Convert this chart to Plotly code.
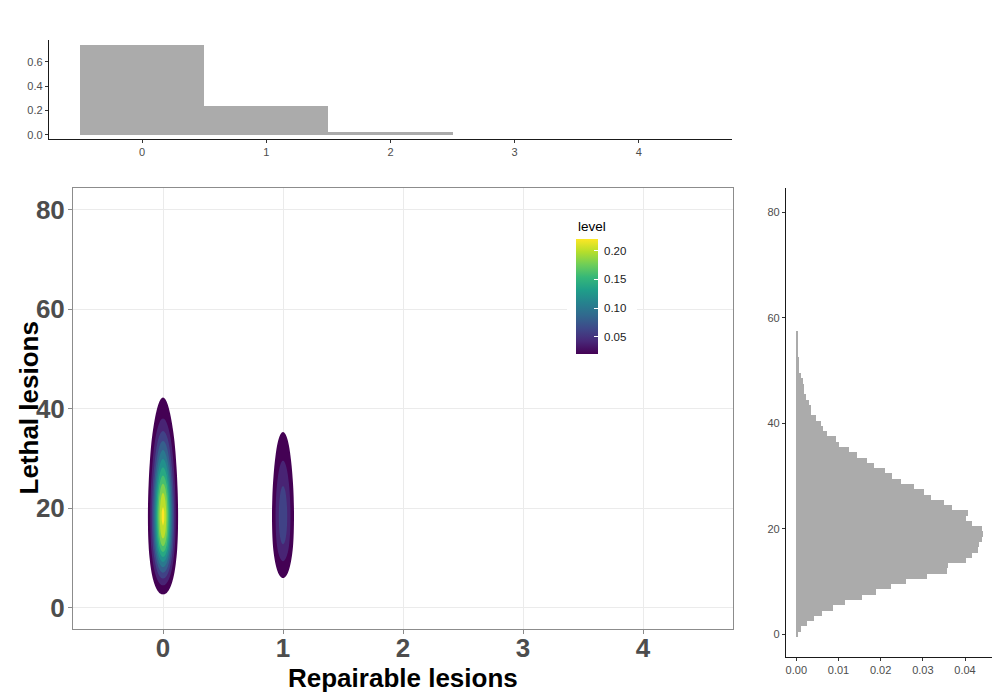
import numpy as np
import plotly.graph_objects as go
from plotly.colors import sample_colorscale

# ---------------- data ----------------
repairable = [0, 1, 2, 3, 4]
repairable_density = [0.736, 0.238, 0.024, 0.0, 0.0]

lethal = list(range(0, 58))
lethal_density = [
    0.0004, 0.0011, 0.0025, 0.0041, 0.0061, 0.0086, 0.0116, 0.0156, 0.0189, 0.0225,
    0.0260, 0.0310, 0.0357, 0.0360, 0.0402, 0.0416, 0.0430, 0.0432, 0.0440, 0.0443,
    0.0440, 0.0416, 0.0402, 0.0407, 0.0368, 0.0351, 0.0319, 0.0303, 0.0279, 0.0249,
    0.0227, 0.0210, 0.0185, 0.0168, 0.0144, 0.0124, 0.0101, 0.0094, 0.0073, 0.0063,
    0.0059, 0.0047, 0.0035, 0.0035, 0.0030, 0.0024, 0.0018, 0.0018, 0.0015, 0.0011,
    0.0007, 0.0007, 0.0007, 0.0004, 0.0002, 0.0002, 0.0002, 0.0002,
]

level_start, level_step, level_end = 0.02, 0.02, 0.22
colorbar_ticks = [0.05, 0.10, 0.15, 0.20]
main_x_ticks = [0, 1, 2, 3, 4]
main_y_ticks = [0, 20, 40, 60, 80]
top_y_ticks = [0.0, 0.2, 0.4, 0.6]
right_x_ticks = [0.00, 0.01, 0.02, 0.03, 0.04]

# kernel bandwidths of the 2D density estimate
bw_x, bw_y = 0.057, 1.5

# ---------------- 2D density (kernel smoothing of the read marginals) ----------------
xg = np.linspace(-0.75, 4.75, 551)
yg = np.linspace(-4.3, 84.5, 445)
px = np.array(repairable_density)
xv = np.array(repairable, dtype=float)
hy = np.array(lethal_density)
lv = np.array(lethal, dtype=float)
fy = (hy[None, :] * np.exp(-0.5 * ((yg[:, None] - lv[None, :]) / bw_y) ** 2)).sum(1) / (bw_y * np.sqrt(2 * np.pi))
fx = (px[None, :] * np.exp(-0.5 * ((xg[:, None] - xv[None, :]) / bw_x) ** 2)).sum(1) / (bw_x * np.sqrt(2 * np.pi))
z = fy[:, None] * fx[None, :]

n_lev = int(round((level_end - level_start) / level_step)) + 1  # 11
vir = sample_colorscale('Viridis', [k / (n_lev - 1) for k in range(n_lev)])
contour_cs = [[0.0, 'rgba(255,255,255,0)']] + [[k / n_lev, vir[k - 1]] for k in range(1, n_lev + 1)]

# ---------------- page geometry (page body has an 8px margin) ----------------
OFF, FW, FH = 8, 992, 692


def X(p):
    return (p - OFF) / FW


def Y(p):
    return 1 - (p - OFF) / FH


FONT = "Liberation Sans"
GREY_TXT = "#4d4d4d"
BAR = "#ababab"

fig = go.Figure()

fig.add_trace(go.Contour(
    x=xg, y=yg, z=z, xaxis='x', yaxis='y',
    colorscale=contour_cs, showscale=False, autocontour=False,
    contours=dict(start=level_start, end=level_end + 0.001, size=level_step,
                  coloring='fill', showlines=False),
    line=dict(width=0), hoverinfo='skip',
))

# colorbar (continuous viridis)
fig.add_trace(go.Scatter(
    x=[None], y=[None], mode='markers', xaxis='x', yaxis='y', showlegend=False,
    marker=dict(color=[level_start], colorscale='Viridis', cmin=level_start, cmax=level_end,
                showscale=True,
                colorbar=dict(x=X(576), xanchor='left', xpad=0, y=Y(354), yanchor='bottom',
                              ypad=0, len=(354 - 239.5) / FH, lenmode='fraction',
                              thickness=22, thicknessmode='pixels', outlinewidth=0,
                              tickvals=colorbar_ticks,
                              ticktext=["\u00a0" + f"{v:.2f}" for v in colorbar_ticks],
                              ticks='inside', ticklen=4, tickcolor='white',
                              tickfont=dict(family=FONT, size=11.5, color='#1a1a1a'),
                              bgcolor='rgba(0,0,0,0)')),
))

fig.add_trace(go.Bar(x=repairable, y=repairable_density, width=1, xaxis='x2', yaxis='y2',
                     marker=dict(color=BAR, line=dict(width=0)), showlegend=False))
fig.add_trace(go.Bar(y=lethal, x=lethal_density, width=1, orientation='h', xaxis='x3', yaxis='y3',
                     marker=dict(color=BAR, line=dict(width=0)), showlegend=False))

main_tick_font = dict(family=FONT, size=26, color=GREY_TXT, weight='bold')
small_tick_font = dict(family=FONT, size=11, color=GREY_TXT)

fig.update_layout(
    width=FW, height=FH, margin=dict(l=0, r=0, t=0, b=0, autoexpand=False),
    paper_bgcolor='white', plot_bgcolor='white', bargap=0, showlegend=False,
    xaxis=dict(domain=[X(73), X(733)], range=[-0.75, 4.75], anchor='y',
               tickvals=main_x_ticks, showgrid=True, gridcolor='#ebebeb', gridwidth=1,
               zeroline=False, showline=True, mirror=True, linecolor='#8c8c8c', linewidth=1,
               ticks='outside', ticklen=4, tickcolor='#8c8c8c', tickfont=main_tick_font,
               ticklabelstandoff=-8),
    yaxis=dict(domain=[Y(629), Y(188)], range=[-4.31, 84.37], anchor='x',
               tickvals=main_y_ticks, showgrid=True, gridcolor='#ebebeb', gridwidth=1,
               zeroline=False, showline=True, mirror=True, linecolor='#8c8c8c', linewidth=1,
               ticks='outside', ticklen=4, tickcolor='#8c8c8c', tickfont=main_tick_font,
               ticklabelstandoff=-2),
    xaxis2=dict(domain=[X(49), X(732)], range=[-0.75, 4.75], anchor='y2',
                tickvals=main_x_ticks, showgrid=False, zeroline=False,
                showline=True, linecolor='#1a1a1a', linewidth=1.3,
                ticks='outside', ticklen=3, tickcolor='#333333', tickfont=small_tick_font),
    yaxis2=dict(domain=[Y(139), Y(40)], range=[-0.035, 0.778], anchor='x2',
                tickvals=top_y_ticks, tickformat='.1f', showgrid=False, zeroline=False,
                showline=True, linecolor='#1a1a1a', linewidth=1.3,
                ticks='outside', ticklen=3, tickcolor='#333333', tickfont=small_tick_font),
    xaxis3=dict(domain=[X(786), X(992)], range=[-0.00244, 0.0464], anchor='y3',
                tickvals=right_x_ticks, tickformat='.2f', showgrid=False, zeroline=False,
                showline=True, linecolor='#1a1a1a', linewidth=1.3,
                ticks='outside', ticklen=3, tickcolor='#333333', tickfont=small_tick_font),
    yaxis3=dict(domain=[Y(657), Y(188)], range=[-4.3, 84.6], anchor='x3',
                tickvals=main_y_ticks, showgrid=False, zeroline=False,
                showline=True, linecolor='#1a1a1a', linewidth=1.3,
                ticks='outside', ticklen=3, tickcolor='#333333', tickfont=small_tick_font),
    shapes=[dict(type='rect', xref='paper', yref='paper', layer='above',
                 x0=X(567), x1=X(637), y0=Y(360), y1=Y(210),
                 fillcolor='white', line=dict(width=0))],
    annotations=[
        dict(text='level', xref='paper', yref='paper', x=X(575.5), y=Y(226),
             xanchor='left', yanchor='middle', showarrow=False,
             font=dict(family=FONT, size=13.5, color='#000000')),
        dict(text='Repairable lesions', xref='paper', yref='paper', x=X(403), y=Y(678),
             xanchor='center', yanchor='middle', showarrow=False,
             font=dict(family=FONT, size=26, color='#000000', weight='bold')),
        dict(text='Lethal lesions', xref='paper', yref='paper', x=X(28), y=Y(408.5),
             xanchor='center', yanchor='middle', showarrow=False, textangle=-90,
             font=dict(family=FONT, size=26, color='#000000', weight='bold')),
    ],
)

fig.write_html("out.html")
